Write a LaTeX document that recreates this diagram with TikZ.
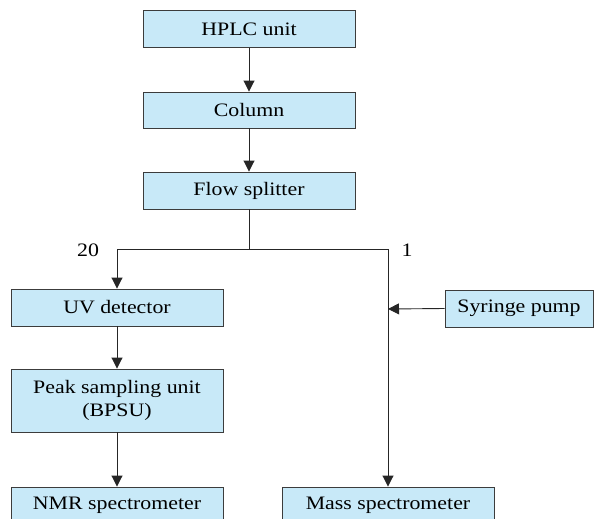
\documentclass[tikz,border=0pt]{standalone}
\usepackage{fontspec}
\setmainfont{Liberation Serif}[FakeStretch=1.15]
\usetikzlibrary{arrows.meta}
\definecolor{boxfill}{RGB}{200,233,248}
\definecolor{boxline}{RGB}{60,60,60}
\tikzset{
  unitbox/.style={draw=boxline, fill=boxfill, line width=0.9pt, rectangle, inner sep=0pt,
    minimum width=212pt, minimum height=37pt, align=center, font=\fontsize{19}{21}\selectfont},
  flow/.style={draw=black!85, line width=0.9pt, -{Triangle[length=11pt,width=11pt]}},
  plain/.style={draw=black!85, line width=0.9pt},
  lbl/.style={inner sep=0pt, font=\fontsize{19}{21}\selectfont}
}
\begin{document}
\begin{tikzpicture}[x=1pt,y=-1pt]
\useasboundingbox (0,0) rectangle (594,519);
\node[unitbox] (hplc) at (249,29) {HPLC unit};
\node[unitbox, minimum height=36pt] (col) at (249,110) {Column};
\node[unitbox] (split) at (249,190.5) {Flow splitter};
\node[unitbox] (uv) at (117,307.5) {UV detector};
\node[unitbox, minimum height=63pt, font=\fontsize{19}{23}\selectfont] (peak) at (117,400.5) {Peak sampling unit\\(BPSU)};
\node[unitbox] (nmr) at (117,505.5) {NMR spectrometer};
\node[unitbox] (mass) at (388,505.5) {Mass spectrometer};
\node[unitbox, minimum width=148pt] (syr) at (519,308.5) {Syringe pump};
\coordinate (fork) at (249,249);
\coordinate (join) at (388,309);
\node[lbl] (l20) at (88,250) {20};
\node[lbl] (l1) at (407,250) {1};
\draw[flow] (hplc) -- (col);
\draw[flow] (col) -- (split);
\draw[plain] (split) -- (fork);
\draw[flow] (fork) -| (uv.north);
\draw[flow] (fork) -| (mass.north);
\draw[flow] (syr.west) -- (join);
\draw[flow] (uv) -- (peak);
\draw[flow] (peak) -- (nmr);
\end{tikzpicture}
\end{document}
